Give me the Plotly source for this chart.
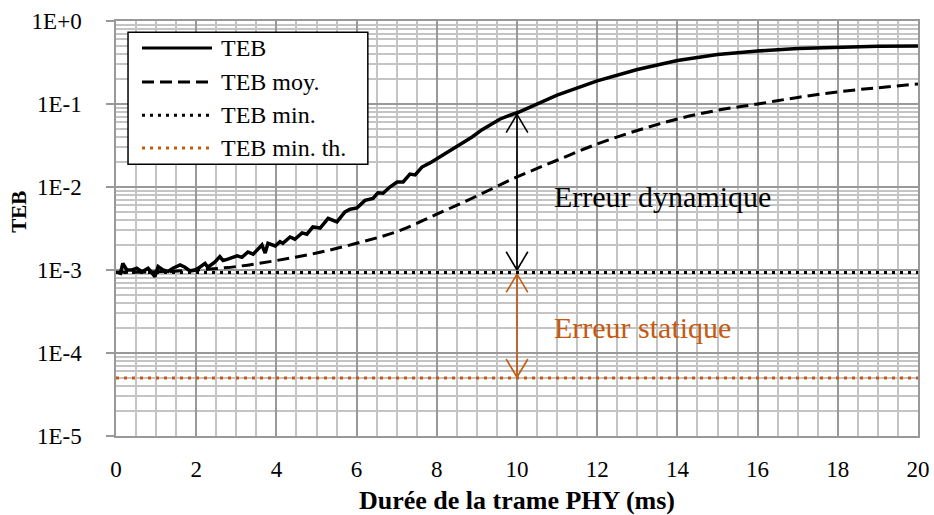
import plotly.graph_objects as go

# ---------------- data ----------------
t_teb = [0.10, 0.17, 0.27, 0.40, 0.52, 0.65, 0.80, 0.97, 1.05, 1.17, 1.30, 1.42, 1.60, 1.72,
         1.85, 1.97, 2.09, 2.22, 2.29, 2.47, 2.59, 2.67, 2.79, 3.02, 3.14, 3.29, 3.42, 3.64,
         3.72, 3.79, 3.97, 4.09, 4.16, 4.34, 4.46, 4.64, 4.76, 4.91, 5.09, 5.29, 5.51, 5.71,
         5.84, 6.01, 6.21, 6.41, 6.53, 6.66, 6.83, 7.01, 7.16, 7.33, 7.46, 7.63, 7.83, 8.03,
         8.25, 8.45, 8.65, 8.88, 9.13, 9.33, 9.58, 9.78, 10.02, 11.0, 12.0, 13.0, 14.0, 15.0,
         16.0, 17.0, 18.0, 19.0, 20.0]
teb = [8.7e-4, 1.2e-3, 1.0e-3, 1.0e-3, 1.05e-3, 9.5e-4, 1.05e-3, 8.3e-4, 1.1e-3, 1.0e-3,
       9.6e-4, 1.05e-3, 1.15e-3, 1.08e-3, 9.7e-4, 1.0e-3, 1.08e-3, 1.2e-3, 1.08e-3, 1.25e-3,
       1.45e-3, 1.3e-3, 1.35e-3, 1.48e-3, 1.42e-3, 1.65e-3, 1.55e-3, 2.0e-3, 1.6e-3, 2.1e-3,
       1.95e-3, 2.2e-3, 2.1e-3, 2.5e-3, 2.35e-3, 2.8e-3, 2.7e-3, 3.3e-3, 3.2e-3, 4.2e-3,
       3.8e-3, 5.0e-3, 5.4e-3, 5.6e-3, 6.9e-3, 7.3e-3, 8.5e-3, 8.4e-3, 1.0e-2, 1.15e-2,
       1.15e-2, 1.43e-2, 1.4e-2, 1.74e-2, 1.95e-2, 2.23e-2, 2.57e-2, 3.0e-2, 3.4e-2, 4.0e-2,
       4.9e-2, 5.6e-2, 6.6e-2, 7.2e-2, 7.9e-2, 0.128, 0.19, 0.26, 0.335, 0.395, 0.435, 0.465,
       0.485, 0.495, 0.50]

t_moy = [0, 1, 2, 3, 4, 5, 6, 7, 8, 9, 10, 11, 12, 13, 14, 15, 16, 17, 18, 19, 20]
teb_moy = [9.4e-4, 9.5e-4, 1.0e-3, 1.1e-3, 1.3e-3, 1.6e-3, 2.1e-3, 2.9e-3, 4.7e-3, 7.8e-3,
           1.32e-2, 2.1e-2, 3.3e-2, 4.8e-2, 6.6e-2, 8.4e-2, 0.10, 0.12, 0.14, 0.157, 0.174]

t_min = [0, 20]
teb_min = [9.3e-4, 9.3e-4]

t_min_th = [0, 20]
teb_min_th = [5e-5, 5e-5]

x_ticks = [0, 2, 4, 6, 8, 10, 12, 14, 16, 18, 20]
y_tickvals = [1e-5, 1e-4, 1e-3, 1e-2, 1e-1, 1]
y_ticktext = ["1E-5", "1E-4", "1E-3", "1E-2", "1E-1", "1E+0"]

series_names = ["TEB", "TEB moy.", "TEB min.", "TEB min. th."]

# arrow positions (x, tip values)
arrow_x = 10
dyn_top, dyn_bottom = 0.075, 1.0e-3
stat_top, stat_bottom = 8.9e-4, 5.1e-5

# ---------------- styles ----------------
ORANGE = "#C55A11"
FONT = "Liberation Serif, Times New Roman, serif"
MAJOR = "#999999"
MINOR = "#c4c4c4"

fig = go.Figure()
fig.add_trace(go.Scatter(x=t_min_th, y=teb_min_th, mode="lines", name=series_names[3],
                         line=dict(color=ORANGE, width=3, dash="3px,5px")))
fig.add_trace(go.Scatter(x=t_min, y=teb_min, mode="lines", name=series_names[2],
                         line=dict(color="black", width=3, dash="3px,5px")))
fig.add_trace(go.Scatter(x=t_moy, y=teb_moy, mode="lines", name=series_names[1],
                         line=dict(color="black", width=3, dash="12px,6px", shape="spline")))
fig.add_trace(go.Scatter(x=t_teb, y=teb, mode="lines", name=series_names[0],
                         line=dict(color="black", width=3.5)))

fig.update_layout(
    width=934, height=515,
    margin=dict(l=116, r=16, t=21, b=79),
    paper_bgcolor="white", plot_bgcolor="white",
    showlegend=False,
    font=dict(family=FONT, color="black", size=22),
)
fig.update_xaxes(
    range=[0, 20], tickvals=x_ticks, ticks="", ticklabelstandoff=12, automargin=False,
    showgrid=True, gridcolor=MAJOR, gridwidth=1.5,
    minor=dict(dtick=0.5, showgrid=True, gridcolor=MINOR, gridwidth=1.5),
    showline=True, linecolor=MAJOR, linewidth=1.5, mirror=True,
    zeroline=False, tickfont=dict(size=23, family=FONT, color="black"),
    title=dict(text="<b>Durée de la trame PHY (ms)</b>",
               font=dict(size=26, family=FONT, color="black"), standoff=10),
)
fig.update_yaxes(
    type="log", range=[-5, 0], tickvals=y_tickvals, ticktext=y_ticktext, automargin=False,
    ticks="outside", ticklen=8, tickcolor=MAJOR, tickwidth=1.5, ticklabelstandoff=20,
    showgrid=True, gridcolor=MAJOR, gridwidth=1.5,
    minor=dict(dtick="D1", showgrid=True, gridcolor=MINOR, gridwidth=1.5),
    showline=True, linecolor=MAJOR, linewidth=1.5, mirror=True,
    zeroline=False, tickfont=dict(size=23, family=FONT, color="black"),
)

# y title as annotation
fig.add_annotation(text="<b>TEB</b>", xref="paper", yref="paper", x=-0.121, y=0.54,
                   textangle=-90, showarrow=False, font=dict(size=21, family=FONT, color="black"),
                   xanchor="center", yanchor="middle")

# double arrows drawn as line shapes (shape coords on a log axis are data values)
def double_arrow(top, bottom, color):
    dx, f = 0.27, 10 ** 0.22
    segs = [(arrow_x, top, arrow_x, bottom),
            (arrow_x, top, arrow_x - dx, top / f), (arrow_x, top, arrow_x + dx, top / f),
            (arrow_x, bottom, arrow_x - dx, bottom * f), (arrow_x, bottom, arrow_x + dx, bottom * f)]
    for x0, y0, x1, y1 in segs:
        fig.add_shape(type="line", xref="x", yref="y", x0=x0, y0=y0, x1=x1, y1=y1,
                      line=dict(color=color, width=1.6), layer="above")

double_arrow(dyn_top, dyn_bottom, "black")
double_arrow(stat_top, stat_bottom, ORANGE)

fig.add_annotation(text="Erreur dynamique", x=13.64, y=-2.11, xref="x", yref="y",
                   showarrow=False, font=dict(size=30, color="black", family=FONT))
fig.add_annotation(text="Erreur statique", x=13.14, y=-3.69, xref="x", yref="y",
                   showarrow=False, font=dict(size=30, color=ORANGE, family=FONT))

# manual legend (paper coordinates)
lx0, lx1, ly0, ly1 = 0.015, 0.314, 0.655, 0.973
fig.add_shape(type="rect", xref="paper", yref="paper", x0=lx0, x1=lx1, y0=ly0, y1=ly1,
              line=dict(color="black", width=1.5), fillcolor="white", layer="above")
rows = [0.935, 0.853, 0.773, 0.694]
styles = [("black", "solid"), ("black", "12px,6px"), ("black", "3px,5px"), (ORANGE, "3px,5px")]
for ry, (c, d), nm in zip(rows, styles, series_names):
    fig.add_shape(type="line", xref="paper", yref="paper", x0=0.0324, x1=0.1197, y0=ry, y1=ry,
                  line=dict(color=c, width=3, dash=d), layer="above")
    fig.add_annotation(text=nm, xref="paper", yref="paper", x=0.1284, y=ry, xanchor="left",
                       yanchor="middle", showarrow=False,
                       font=dict(size=24, family=FONT, color="black"))

fig.write_html("out.html", config={"displayModeBar": False},
               post_script="document.body.style.margin='0';document.body.style.overflow='hidden';")
